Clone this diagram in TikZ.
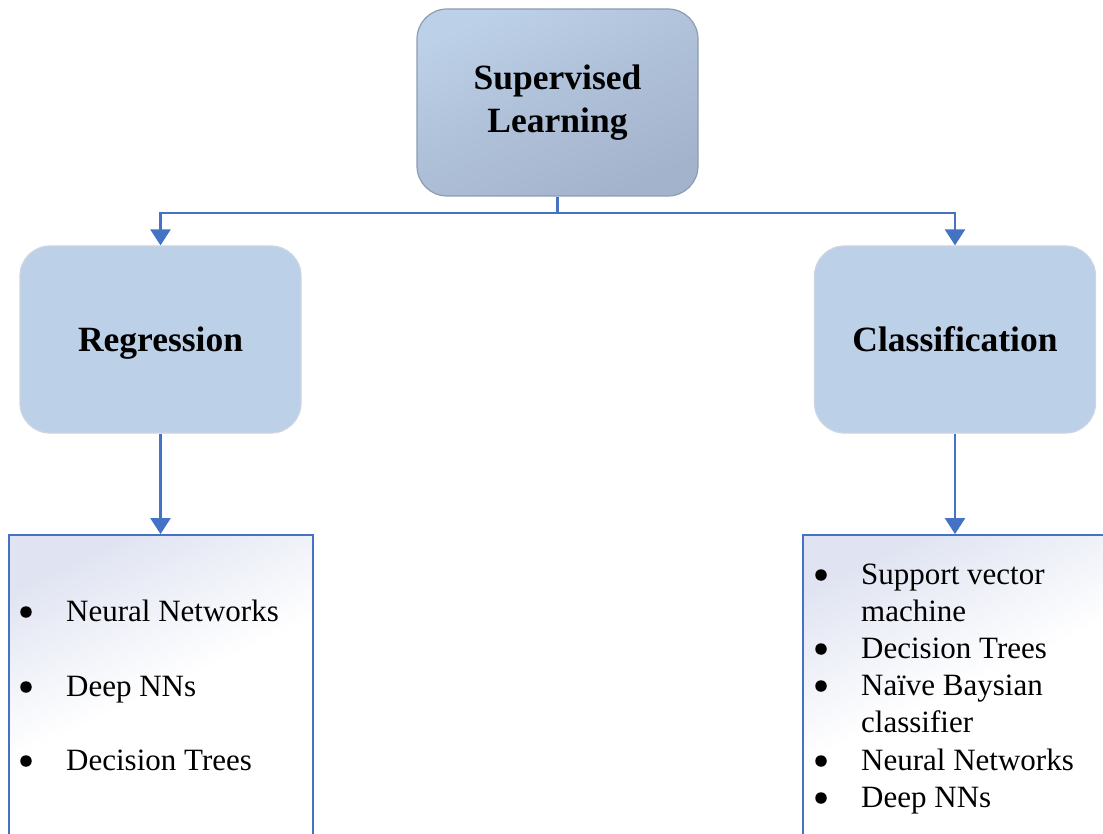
\documentclass[tikz,border=0pt]{standalone}
\usepackage{fontspec}
\setmainfont{Liberation Serif}
\usetikzlibrary{arrows.meta}

\definecolor{linkblue}{HTML}{4472C4}
\definecolor{boxblue}{HTML}{BCD0E8}
\definecolor{topdark}{HTML}{A3B3CB}
\definecolor{topedge}{HTML}{8C9CB2}
\definecolor{softedge}{HTML}{CCD5E2}
\definecolor{listtint}{HTML}{E0E4F2}

% pale tint at the top of a list box, white over its lower half
\pgfdeclareverticalshading{listfade}{100bp}{%
  color(0bp)=(white); color(50bp)=(white);
  color(75bp)=(listtint); color(100bp)=(listtint)}

\begin{document}
\begin{tikzpicture}[x=1pt,y=-1pt,
  headbox/.style={rounded corners=30pt, minimum width=281pt, minimum height=187pt,
    inner sep=0pt, align=center, font=\fontsize{35.5}{43}\selectfont\bfseries},
  topbox/.style={headbox, draw=topedge, line width=1.2pt,
    top color=boxblue, bottom color=topdark, middle color=topdark!55!boxblue,
    shading angle=25},
  midbox/.style={headbox, draw=softedge, line width=1.2pt, fill=boxblue,
    text height=24pt, text depth=0pt},
  listbox/.style={draw=linkblue, line width=1.8pt, inner sep=0pt,
    shading=listfade, shading angle=25},
  link/.style={draw=linkblue, line width=2.4pt},
  tip/.style={-{Triangle[width=20pt,length=16pt]}},
  item/.style={anchor=base west, inner sep=0pt, font=\fontsize{31}{37}\selectfont},
  dot/.style={circle, fill=black, inner sep=0pt, minimum size=11.5pt}]

\useasboundingbox (0,0) rectangle (1103,834);
\clip (0,0) rectangle (1103,834);

% headings
\node[topbox] (sup) at (557.5,102.5) {Supervised\\Learning};
\node[midbox] (reg) at (160.5,339.5) {Regression};
\node[midbox] (cls) at (955,339.5) {Classification};

% list boxes (they run past the lower edge)
\node[listbox, minimum width=304pt, minimum height=310pt] (regl) at (161,690) {};
\node[listbox, minimum width=312pt, minimum height=310pt] (clsl) at (959,690) {};

% connectors
\coordinate (split) at (557.5,213);
\draw[link] (sup.south) -- (split);
\draw[link, tip] (split) -| (reg.north);
\draw[link, tip] (split) -| (cls.north);
\draw[link, tip] (reg.south) -- (reg.south |- regl.north);
\draw[link, tip] (cls.south) -- (cls.south |- clsl.north);

% regression methods
\node[dot] (rb1) at (26,612) {};
\node[item] (r1) at (66,621) {Neural Networks};
\node[dot] (rb2) at (26,687) {};
\node[item] (r2) at (66,696) {Deep NNs};
\node[dot] (rb3) at (26,761) {};
\node[item] (r3) at (66,770) {Decision Trees};

% classification methods
\node[dot] (cb1) at (821,575) {};
\node[item] (c1) at (861,584) {Support vector};
\node[item] (c1b) at (861,621) {machine};
\node[dot] (cb2) at (821,649) {};
\node[item] (c2) at (861,658) {Decision Trees};
\node[dot] (cb3) at (821,686) {};
\node[item] (c3) at (861,695) {Naïve Baysian};
\node[item] (c3b) at (861,732) {classifier};
\node[dot] (cb4) at (821,761) {};
\node[item] (c4) at (861,770) {Neural Networks};
\node[dot] (cb5) at (821,798) {};
\node[item] (c5) at (861,807) {Deep NNs};

\end{tikzpicture}
\end{document}
